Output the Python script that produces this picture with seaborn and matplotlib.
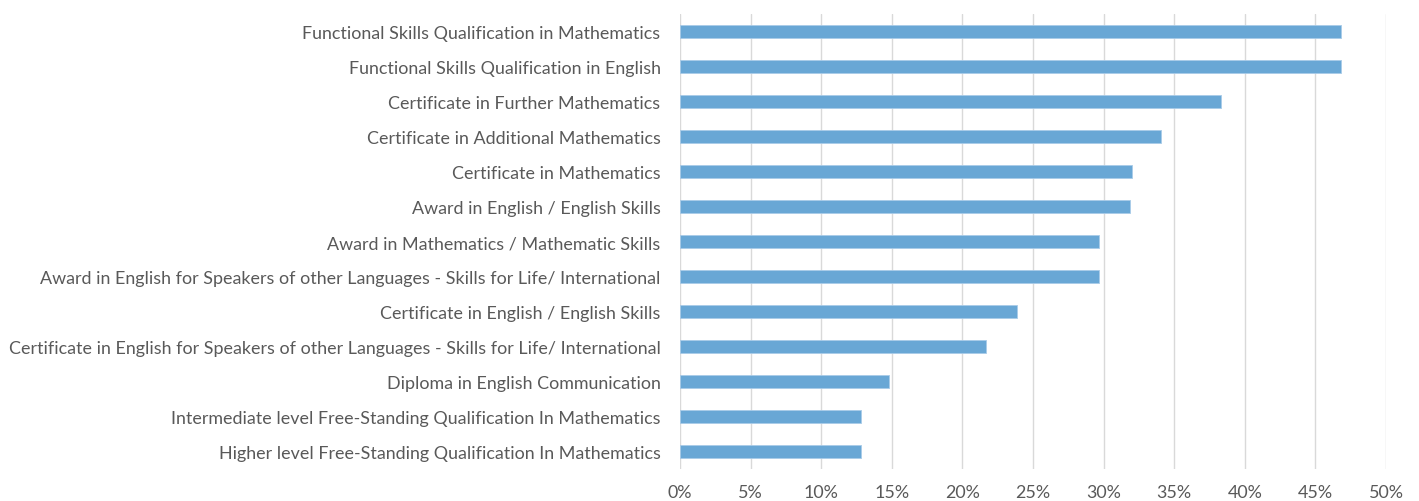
import matplotlib
matplotlib.use("Agg")
import matplotlib.pyplot as plt
import seaborn as sns
import pandas as pd
from matplotlib.ticker import PercentFormatter

# qualification names, top to bottom as in the chart
qualifications = [
    "Functional Skills Qualification in Mathematics",
    "Functional Skills Qualification in English",
    "Certificate in Further Mathematics",
    "Certificate in Additional Mathematics",
    "Certificate in Mathematics",
    "Award in English / English Skills",
    "Award in Mathematics / Mathematic Skills",
    "Award in English for Speakers of other Languages - Skills for Life/ International",
    "Certificate in English / English Skills",
    "Certificate in English for Speakers of other Languages - Skills for Life/ International",
    "Diploma in English Communication",
    "Intermediate level Free-Standing Qualification In Mathematics",
    "Higher level Free-Standing Qualification In Mathematics",
]
# share, as fraction
shares = [0.468, 0.468, 0.383, 0.341, 0.320, 0.319, 0.297, 0.297, 0.239, 0.217, 0.148, 0.128, 0.128]
x_ticks = [0.0, 0.05, 0.10, 0.15, 0.20, 0.25, 0.30, 0.35, 0.40, 0.45, 0.50]

df = pd.DataFrame({"qualification": qualifications, "share": shares})

sns.set_style("white")
plt.rcParams["font.family"] = ["Lato", "DejaVu Sans"]

fig = plt.figure(figsize=(14.19, 5.02), dpi=100)
ax = fig.add_axes([680 / 1419, 32 / 502, 706 / 1419, 455 / 502])

sns.barplot(data=df, x="share", y="qualification", orient="h", color="#69a7d5",
            saturation=1, width=0.37, edgecolor="#a9cbe8", linewidth=0.6,
            ax=ax, zorder=3)

ax.set_xlim(0, 0.5)
ax.set_xticks(x_ticks)
ax.xaxis.set_major_formatter(PercentFormatter(1.0, decimals=0))
ax.grid(axis="x", color="#d9d9d9", linewidth=1, zorder=0)
ax.set_axisbelow(True)
ax.set_xlabel("")
ax.set_ylabel("")
sns.despine(ax=ax, left=True, bottom=True, top=True, right=True)
ax.tick_params(axis="both", length=0, colors="#595959", labelsize=12.9)
ax.tick_params(axis="y", pad=14)
ax.tick_params(axis="x", pad=11)

fig.savefig("out.png", dpi=100)
